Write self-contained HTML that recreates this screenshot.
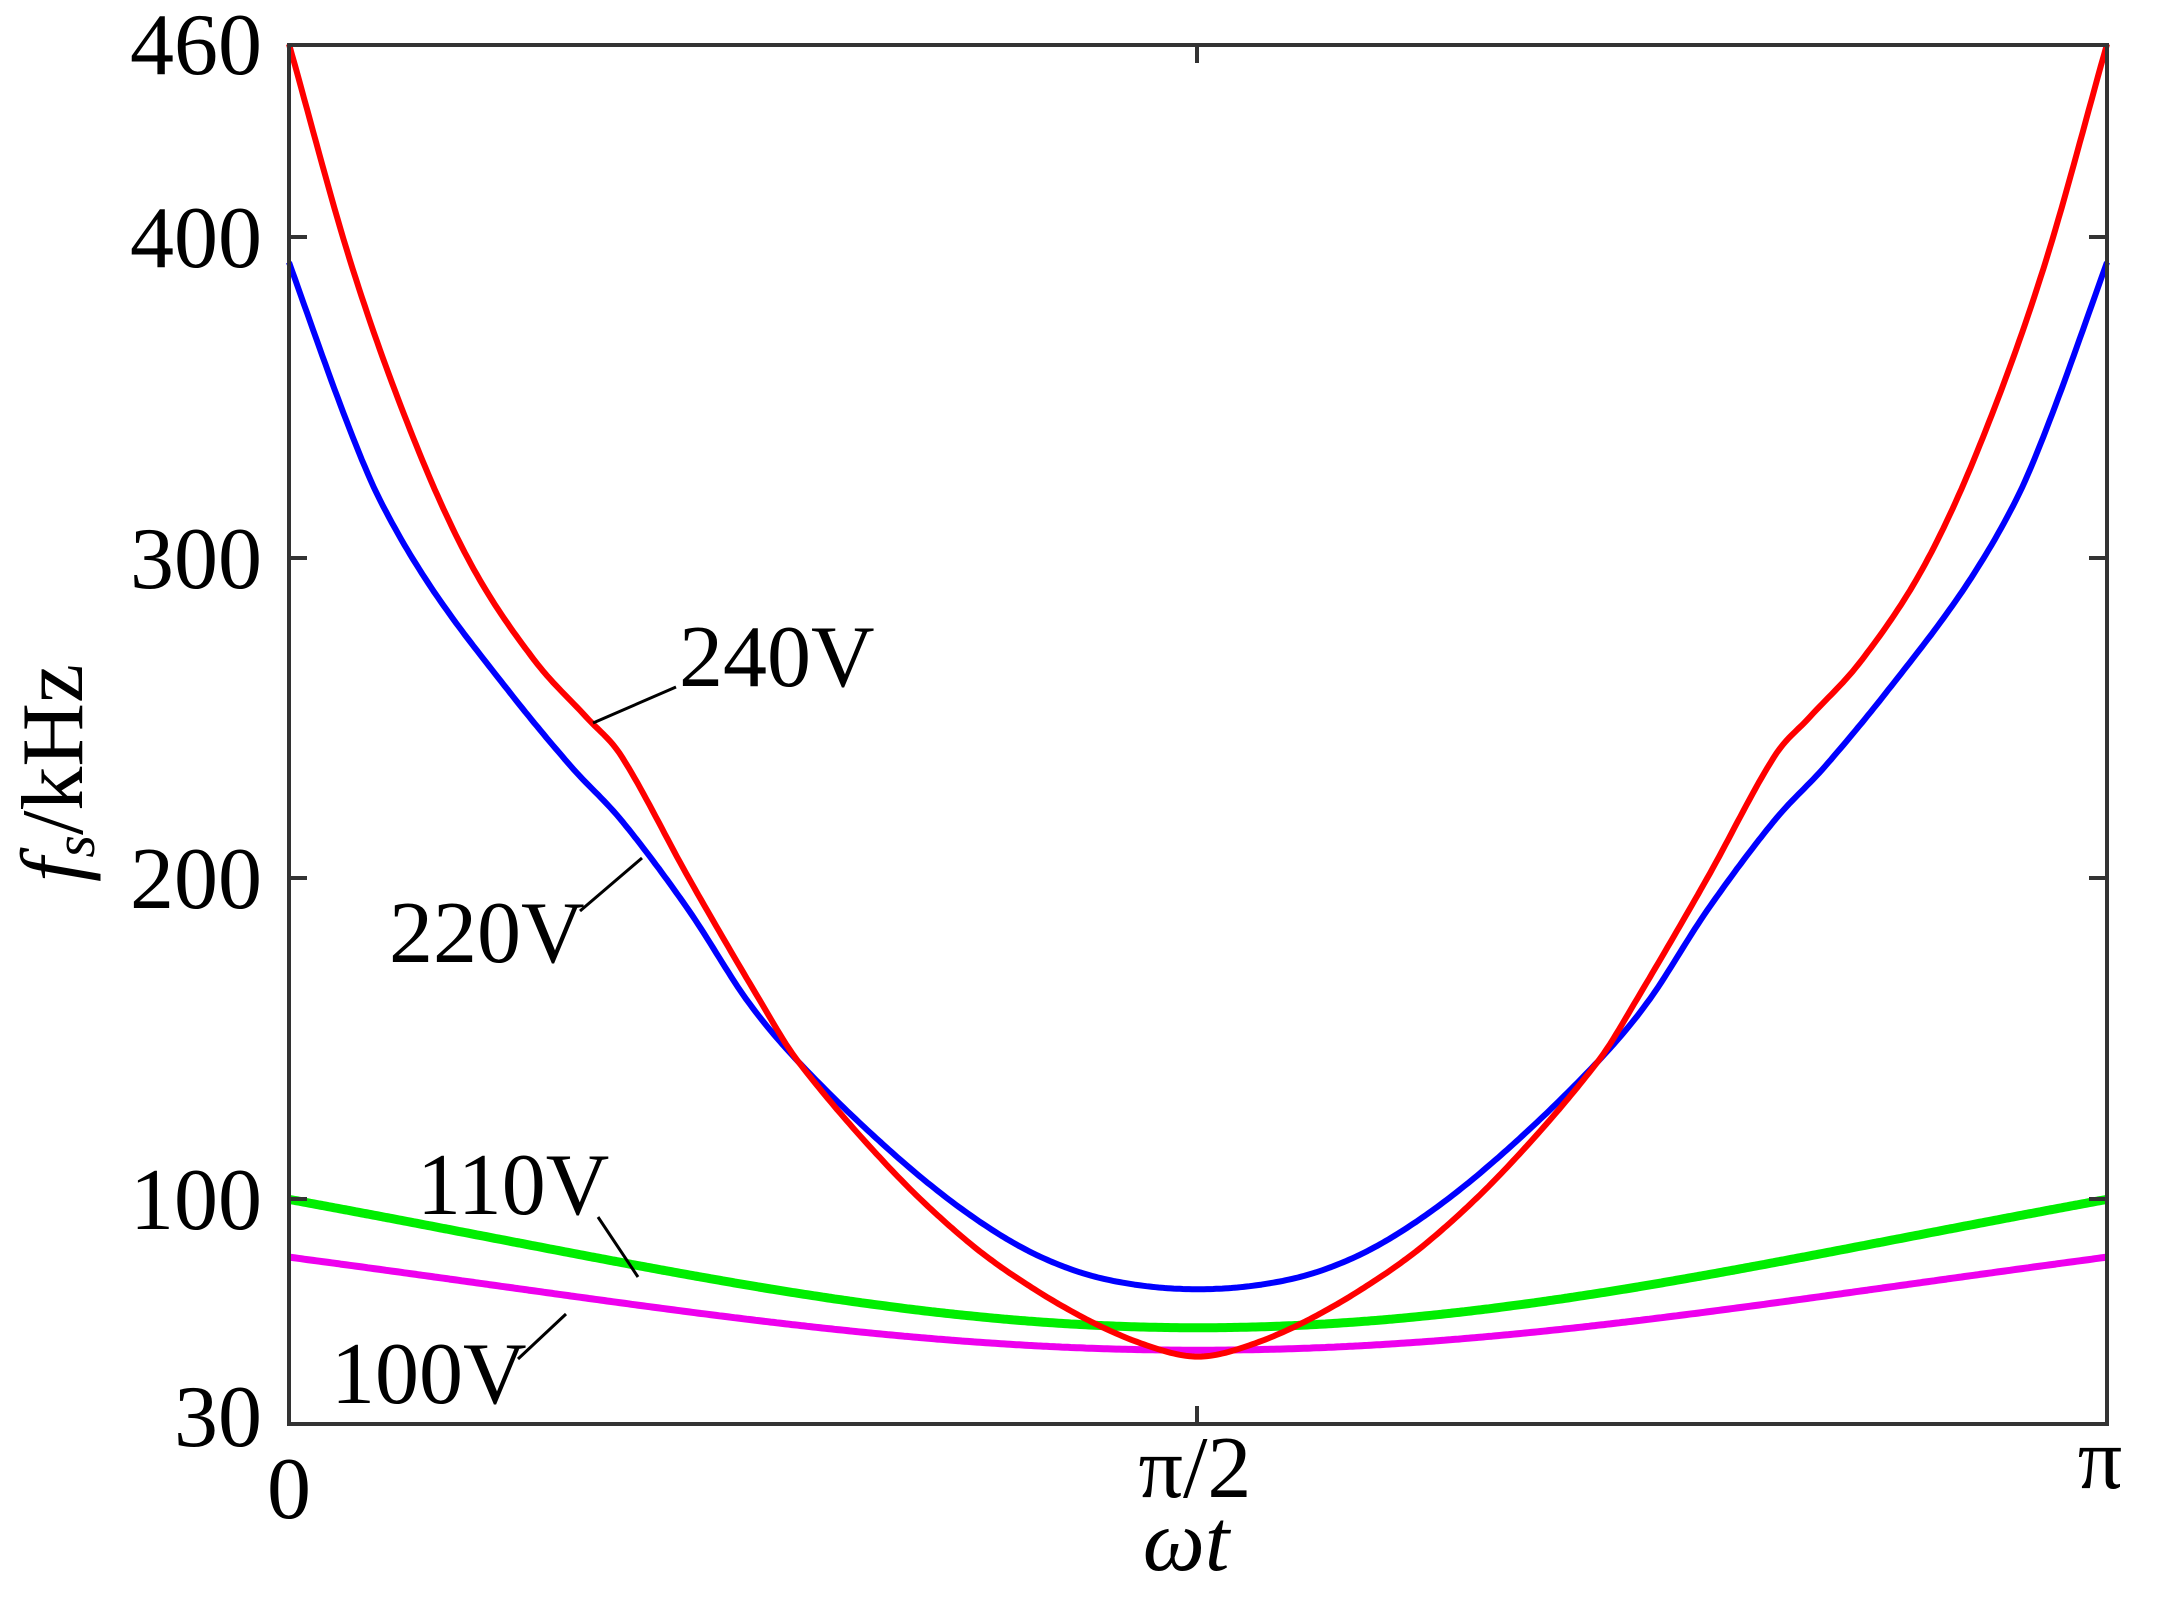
<!DOCTYPE html>
<html><head><meta charset="utf-8"><style>
html,body{margin:0;padding:0;background:#fff;}
svg{display:block;}
text{font-family:"Liberation Serif",serif;fill:#000;}
</style></head><body>
<svg id="s" width="2160" height="1604" viewBox="0 0 2160 1604" xmlns="http://www.w3.org/2000/svg">
<rect width="2160" height="1604" fill="#fff"/>
<g id="curves" fill="none" stroke-linejoin="round"></g>
<g stroke="#333" stroke-width="4" fill="none">
<rect x="289" y="45" width="1818" height="1379"/>
<path d="M289 237h18M289 558h18M289 878h18M289 1199h18M2107 237h-18M2107 558h-18M2107 878h-18M2107 1199h-18M1197 45v18M1197 1424v-18"/>
</g>
<g font-size="88" text-anchor="end">
<text x="262" y="74">460</text>
<text x="262" y="267">400</text>
<text x="262" y="588">300</text>
<text x="262" y="908">200</text>
<text x="262" y="1229">100</text>
<text x="262" y="1446">30</text>
</g>
<g font-size="88" text-anchor="middle">
<text x="289" y="1518">0</text>
<text x="1195" y="1497">π/2</text>
<text x="2100" y="1488">π</text>
<text x="1186" y="1570" font-style="italic">ωt</text>
</g>
<text font-size="88" transform="translate(82,773) rotate(-90)" text-anchor="middle"><tspan font-style="italic">f</tspan><tspan font-style="italic" font-size="58" dy="12">s</tspan><tspan dy="-12">/kHz</tspan></text>
<g font-size="88">
<text x="679" y="686">240V</text>
<text x="389" y="962">220V</text>
<text x="417" y="1214">110V</text>
<text x="331" y="1403">100V</text>
</g>
<g stroke="#000" stroke-width="3">
<line x1="676" y1="687" x2="593" y2="723"/>
<line x1="580" y1="911" x2="642" y2="858"/>
<line x1="598" y1="1217" x2="638" y2="1277"/>
<line x1="518" y1="1359" x2="566" y2="1314"/>
</g>
</svg>
<script>
(function(){
var X0=289,X1=2107,Yb=1424,k=3.209;
function px(t){return X0+(X1-X0)*t;}
function py(v){return Yb-(v-30)*k;}
function interp(pts,t){
 if(t>0.5)t=1-t;
 for(var i=0;i<pts.length-1;i++){
  if(t<=pts[i+1][0]){
   var a=pts[i],b=pts[i+1],u=(t-a[0])/(b[0]-a[0]);
   var p0=pts[Math.max(0,i-1)],p3=pts[Math.min(pts.length-1,i+2)];
   var m1=(b[1]-p0[1])/(b[0]-p0[0])*(b[0]-a[0]);
   var m2=(p3[1]-a[1])/(p3[0]-a[0])*(b[0]-a[0]);
   if(i==pts.length-2) m2=0;
   var h00=2*u*u*u-3*u*u+1,h10=u*u*u-2*u*u+u,h01=-2*u*u*u+3*u*u,h11=u*u*u-u*u;
   return h00*a[1]+h10*m1+h01*b[1]+h11*m2;
  }
 }
 return pts[pts.length-1][1];
}
var red=[[0,460],[0.035,390],[0.07,335],[0.101,297],[0.135,268],[0.164,250],[0.183,238],[0.22,200],[0.259,162],[0.28,143],[0.33,110],[0.373,87],[0.41,72],[0.448,60],[0.48,53],[0.5,51]];
var blue=[[0,392],[0.03,345],[0.05,318],[0.079,290],[0.12,259],[0.155,235],[0.183,218],[0.22,190],[0.252,162],[0.28,143],[0.327,117],[0.37,97],[0.41,83],[0.45,75],[0.5,72]];
function shape(t){var c=Math.cos(Math.PI*t);var p=(2*t-1);return 0.65*p*p+0.35*c*c;}
function path(f){var d="";for(var i=0;i<=600;i++){var t=i/600;d+=(i?"L":"M")+px(t).toFixed(1)+" "+py(f(t)).toFixed(1);}return d;}
var g=document.getElementById("curves");
function add(d,c,w){var p=document.createElementNS("http://www.w3.org/2000/svg","path");p.setAttribute("d",d);p.setAttribute("stroke",c);p.setAttribute("stroke-width",w);g.appendChild(p);}
add(path(function(t){return 60+40*shape(t);}),"#00ee00",9);
add(path(function(t){return 53+29*shape(t);}),"#ee00ee",7);
add(path(function(t){return interp(blue,t);}),"#0000ff",6);
add(path(function(t){return interp(red,t);}),"#ff0000",6);
})();
</script>
</body></html>
